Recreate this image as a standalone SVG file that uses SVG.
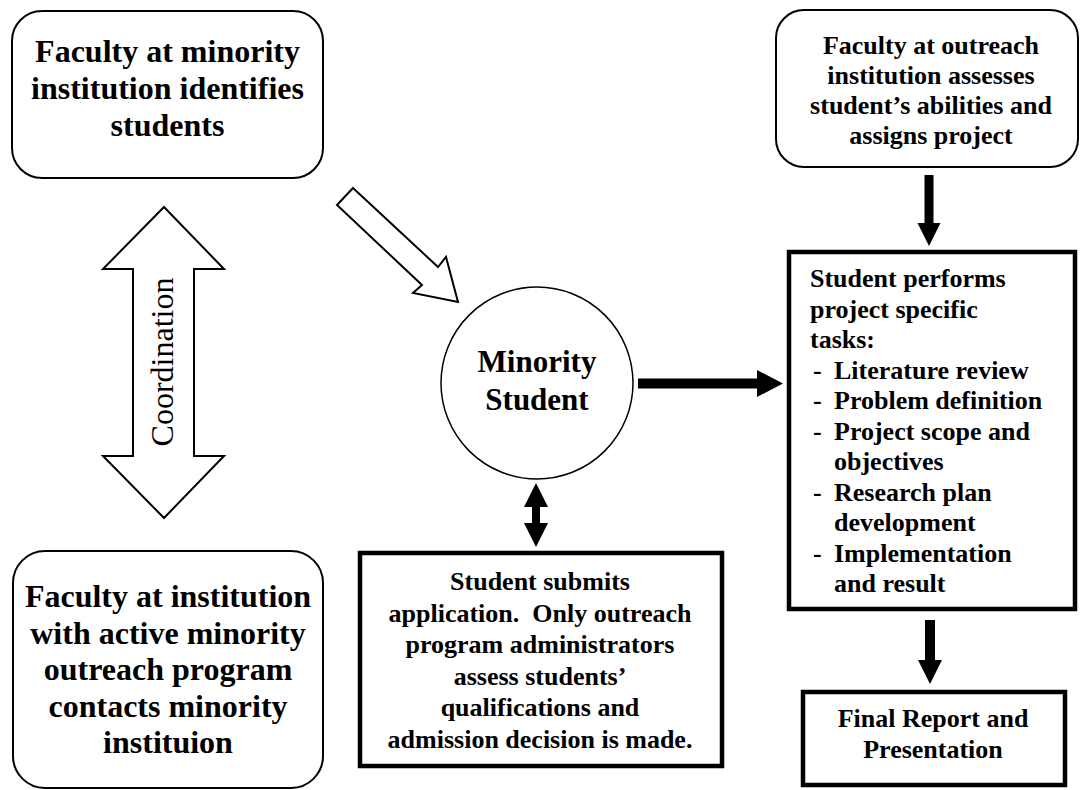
<svg xmlns="http://www.w3.org/2000/svg" width="1081" height="790" viewBox="0 0 1081 790">
<style>
.t{font-family:"Liberation Serif","Times New Roman",serif;font-weight:bold;fill:#000}
.c{text-anchor:middle}
.f32{font-size:32px}
.f26{font-size:26px}
.rnd{fill:#fff;stroke:#000;stroke-width:2}
.thk{fill:#fff;stroke:#000;stroke-width:4.5}
.hol{fill:#fff;stroke:#000;stroke-width:2;stroke-linejoin:miter}
.sol{fill:#000;stroke:none}
</style>
<rect width="1081" height="790" fill="#fff"/>
<g id="connectors">
<polygon id="coordination" class="hol" points="164,207 224,269 194,269 194,456 224,456 164,518 103,456 133,456 133,269 103,269"/>
<text class="t" x="0" y="0" transform="translate(173,362) rotate(-90)" text-anchor="middle" style="font-weight:normal;font-size:32px">Coordination</text>
<polygon id="hollow-diag" class="hol" points="353,188 438,267 446,257 458,302 413,293 422,285 337,205"/>
<polygon id="arrow-right" class="sol" points="638,378.5 757,378.5 757,370 783,383.5 757,397 757,388.5 638,388.5"/>
<polygon id="arrow-updown" class="sol" points="536,483 548,507 540,507 540,523 548,523 536,547 524,523 532,523 532,507 524,507"/>
<polygon id="arrow-down1" class="sol" points="924.5,175 933.5,175 933.5,223 940.5,223 929,246 917.5,223 924.5,223"/>
<polygon id="arrow-down2" class="sol" points="925,620 935,620 935,660 942,660 930,684 918,660 925,660"/>
</g>
<g id="node-minority-faculty">
<rect class="rnd" x="12" y="11" width="311" height="167" rx="30" ry="30"/>
<text class="t c f32"><tspan x="167.5" y="62">Faculty at minority</tspan><tspan x="167.5" y="99">institution identifies</tspan><tspan x="167.5" y="136">students</tspan></text>
</g>
<g id="node-outreach-faculty">
<rect class="rnd" x="776" y="10" width="302" height="157" rx="28" ry="28"/>
<text class="t c f26"><tspan x="931" y="54">Faculty at outreach</tspan><tspan x="931" y="84">institution assesses</tspan><tspan x="931" y="114">student’s abilities and</tspan><tspan x="931" y="144">assigns project</tspan></text>
</g>
<g id="node-student">
<circle cx="537" cy="383" r="96" fill="#fff" stroke="#000" stroke-width="1.5"/>
<text class="t c" style="font-size:31px"><tspan x="537" y="372">Minority</tspan><tspan x="537" y="410">Student</tspan></text>
</g>
<g id="node-tasks">
<rect class="thk" x="789" y="252" width="286" height="357"/>
<text class="t f26"><tspan x="810" y="287">Student performs</tspan><tspan x="810" y="317.5">project specific</tspan><tspan x="810" y="348">tasks:</tspan></text>
<text class="t f26"><tspan x="813" y="378.5">-</tspan><tspan x="813" y="409">-</tspan><tspan x="813" y="439.5">-</tspan><tspan x="813" y="500.5">-</tspan><tspan x="813" y="561.5">-</tspan></text>
<text class="t f26"><tspan x="834" y="378.5">Literature review</tspan><tspan x="834" y="409">Problem definition</tspan><tspan x="834" y="439.5">Project scope and</tspan><tspan x="834" y="470">objectives</tspan><tspan x="834" y="500.5">Research plan</tspan><tspan x="834" y="531">development</tspan><tspan x="834" y="561.5">Implementation</tspan><tspan x="834" y="592">and result</tspan></text>
</g>
<g id="node-outreach-program">
<rect class="rnd" x="13" y="551" width="310" height="237" rx="32" ry="32"/>
<text class="t c f32"><tspan x="168" y="607">Faculty at institution</tspan><tspan x="168" y="643.5">with active minority</tspan><tspan x="168" y="680">outreach program</tspan><tspan x="168" y="716.5">contacts minority</tspan><tspan x="168" y="753">instituion</tspan></text>
</g>
<g id="node-application">
<rect class="thk" x="360" y="553" width="362" height="213"/>
<text class="t c f26"><tspan x="540" y="590">Student submits</tspan><tspan x="540" y="621.5">application.&#160; Only outreach</tspan><tspan x="540" y="653">program administrators</tspan><tspan x="540" y="684.5">assess students’</tspan><tspan x="540" y="716">qualifications and</tspan><tspan x="540" y="747.5">admission decision is made.</tspan></text>
</g>
<g id="node-final">
<rect class="thk" x="803" y="692" width="262" height="93"/>
<text class="t c f26"><tspan x="933" y="727">Final Report and</tspan><tspan x="933" y="758">Presentation</tspan></text>
</g>
</svg>
